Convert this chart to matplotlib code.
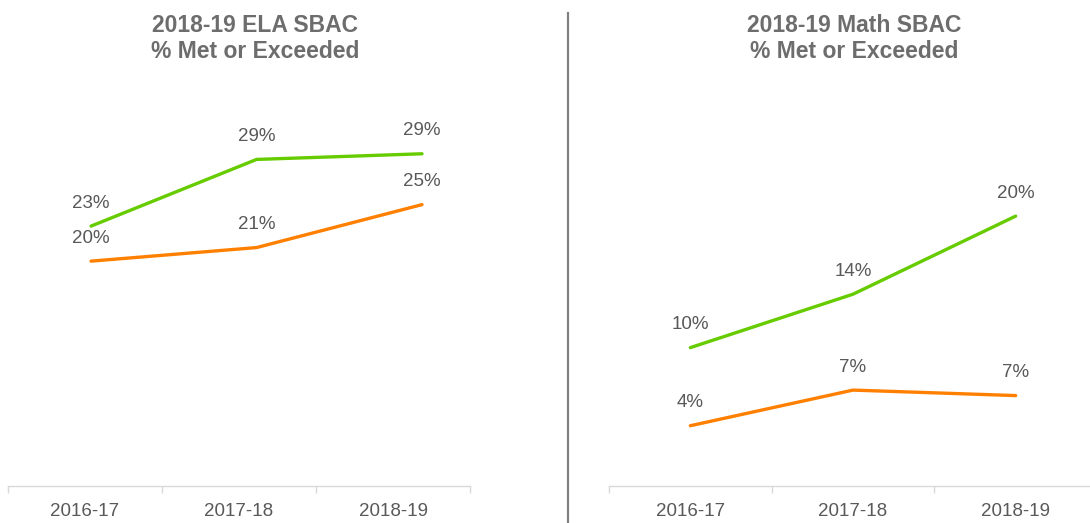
import matplotlib
matplotlib.use("Agg")
import matplotlib.pyplot as plt
from matplotlib.lines import Line2D

plt.rcParams['font.family'] = ['Liberation Sans', 'DejaVu Sans']

years = ["2016-17", "2017-18", "2018-19"]
ela_green = [23.0, 28.9, 29.4]
ela_orange = [19.9, 21.1, 24.9]
math_green = [10.1, 14.0, 19.7]
math_orange = [4.4, 7.0, 6.6]
titles = [("2018-19 ELA SBAC", "% Met or Exceeded"),
          ("2018-19 Math SBAC", "% Met or Exceeded")]

W, H = 1090, 523
GREEN = "#66CC00"
ORANGE = "#FF8000"
LABEL = "#595959"
AXIS = "#D9D9D9"

fig = plt.figure(figsize=(W / 100, H / 100), dpi=100)

base_px = 486
top_px = 70


def make_axes(x0, x1, ymax):
    ax = fig.add_axes([x0 / W, (H - base_px) / H, (x1 - x0) / W, (base_px - top_px) / H])
    ax.set_xlim(-0.5, 2.5)
    ax.set_ylim(0, ymax)
    for s in ["top", "right", "left"]:
        ax.spines[s].set_visible(False)
    ax.spines["bottom"].set_color(AXIS)
    ax.spines["bottom"].set_linewidth(1.0)
    ax.set_yticks([])
    ax.set_xticks([-0.5, 0.5, 1.5, 2.5])
    ax.set_xticklabels([])
    ax.set_xticks([0, 1, 2], minor=True)
    ax.set_xticklabels(years, minor=True)
    ax.tick_params(axis="x", which="major", length=5, color=AXIS, width=1.0)
    ax.tick_params(axis="x", which="minor", length=0, pad=12, labelsize=13.5, labelcolor=LABEL)
    ax.patch.set_alpha(0)
    return ax


def draw_series(ax, vals, color):
    xs = list(range(len(vals)))
    ax.plot(xs, vals, color=color, lw=2.4, solid_capstyle="round", clip_on=False)
    for x, v in zip(xs, vals):
        ax.annotate(f"{v:.0f}%", (x, v), xytext=(0, 16.5), textcoords="offset points",
                    ha="center", va="center", fontsize=13.5, color=LABEL)


# Left chart
axL = make_axes(8, 470, (base_px - top_px) / 11.3)
axL2 = axL.twiny()
axL2.set_xlim(-0.502, 2.29)
axL2.axis("off")
draw_series(axL2, ela_green, GREEN)
draw_series(axL2, ela_orange, ORANGE)

# Right chart
axR = make_axes(609, 1097, (base_px - top_px) / 13.7)
draw_series(axR, math_green, GREEN)
draw_series(axR, math_orange, ORANGE)

# Titles
for (l1, l2), cx in zip(titles, [255, 854]):
    fig.text(cx / W, 1 - 25 / H, l1, ha="center", va="center", fontsize=16.5,
             fontweight="bold", color="#6D6D6D")
    fig.text(cx / W, 1 - 52 / H, l2, ha="center", va="center", fontsize=16.5,
             fontweight="bold", color="#6D6D6D")

# Divider
fig.add_artist(Line2D([568 / W, 568 / W], [0, 1 - 13 / H], transform=fig.transFigure,
                      color="#808080", lw=1.6))

fig.savefig("out.png", dpi=100)
